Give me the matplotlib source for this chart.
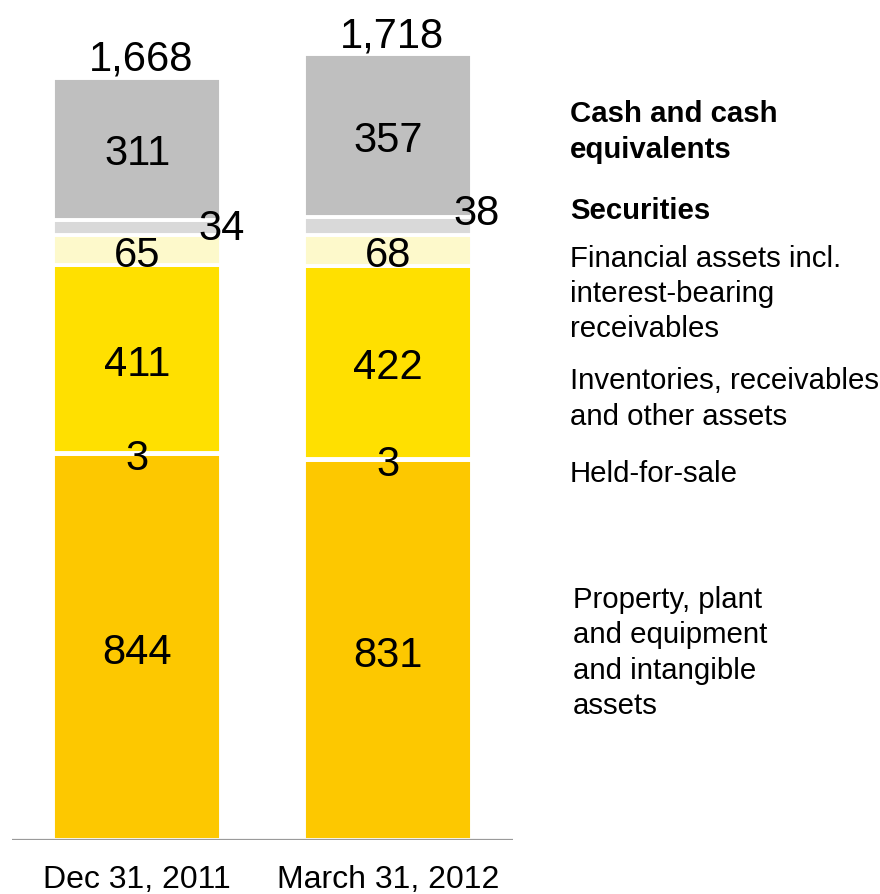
import matplotlib
matplotlib.use("Agg")
import matplotlib.pyplot as plt
import numpy as np

plt.rcParams['font.family'] = ['Liberation Sans', 'DejaVu Sans']

# Balance sheet assets (EUR million)
dates = ["Dec 31, 2011", "March 31, 2012"]
ppe = [844, 831]            # Property, plant and equipment and intangible assets
held_for_sale = [3, 3]
inventories = [411, 422]    # Inventories, receivables and other assets
fin_assets = [65, 68]       # Financial assets incl. interest-bearing receivables
securities = [34, 38]
cash = [311, 357]
totals = ["1,668", "1,718"]

series = [ppe, held_for_sale, inventories, fin_assets, securities, cash]
colors = ["#FDC800", "#FFFFFF", "#FFE000", "#FDF9CB", "#D9D9D9", "#BFBFBF"]
legend_labels = [
    ("Property, plant\nand equipment\nand intangible\nassets", "normal", 653, 573),
    ("Held-for-sale", "normal", 474, 570),
    ("Inventories, receivables\nand other assets", "normal", 399, 570),
    ("Financial assets incl.\ninterest-bearing\nreceivables", "normal", 294, 570),
    ("Securities", "bold", 211, 570),
    ("Cash and cash\nequivalents", "bold", 132, 570),
]

W, H = 880, 894
fig = plt.figure(figsize=(W / 100, H / 100), dpi=100)
ax = fig.add_axes([12 / W, 1 - 840 / H, 501 / W, 830 / H])
ax.set_xlim(-0.5, 1.5)
ax.set_ylim(0, 1816)

x = np.arange(len(dates))
bw = 0.672
bottom = np.zeros(len(dates))
for vals, col in zip(series, colors):
    vals = np.array(vals, dtype=float)
    ax.bar(x, vals, bw, bottom=bottom, color=col, edgecolor="white",
           linewidth=2.8, zorder=2)
    bottom = bottom + vals

# segment value labels
sec_offsets = [(0, -1), (3, 9)]   # (dx, dy) in points for the securities labels
bottom = np.zeros(len(dates))
for k, vals in enumerate(series):
    for i, v in enumerate(vals):
        cy = bottom[i] + v / 2
        if k == 4:
            # thin securities segment: label sits at the bar's right edge
            ax.annotate(f"{v}", (x[i] + bw / 2, cy), xytext=sec_offsets[i],
                        textcoords="offset points", ha="center", va="center",
                        fontsize=30, color="black", zorder=3)
        else:
            ax.annotate(f"{v}", (x[i], cy), xytext=(0, -4),
                        textcoords="offset points", ha="center", va="center",
                        fontsize=30, color="black", zorder=3)
    bottom = bottom + np.array(vals)

# totals above bars
for i, t in enumerate(totals):
    ax.annotate(t, (x[i], bottom[i]), xytext=(3, 13), textcoords="offset points",
                ha="center", va="center", fontsize=30, color="black")

ax.axhline(0, color="#9A9A9A", linewidth=1.6, zorder=4)
for s in ax.spines.values():
    s.set_visible(False)
ax.set_yticks([])
ax.set_xticks(x)
ax.set_xticklabels(dates, fontsize=23)
ax.tick_params(axis="x", length=0, pad=18)

for text, weight, ypx, xpx in legend_labels:
    fig.text(xpx / W, 1 - ypx / H, text, fontsize=21.2, fontweight=weight,
             ha="left", va="center", linespacing=1.33, color="black")

fig.savefig("out.png", dpi=100)
